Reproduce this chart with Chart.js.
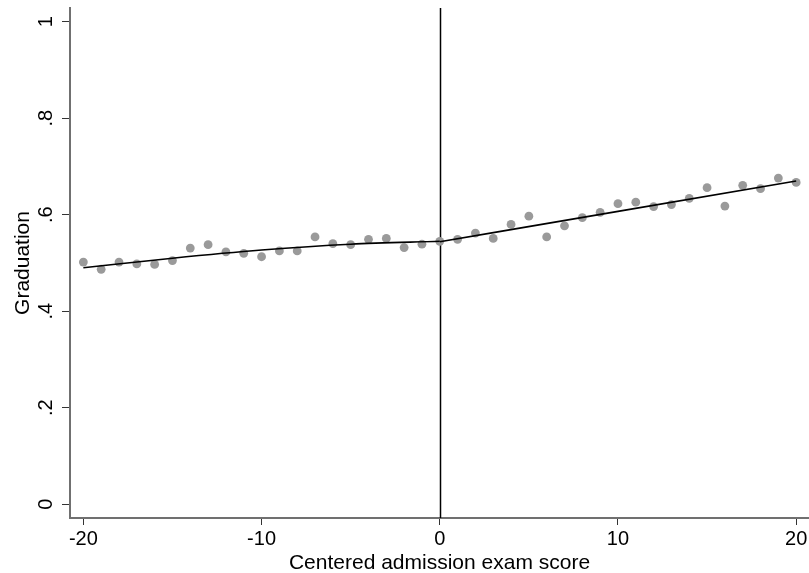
<!DOCTYPE html>
<html>
<head>
<meta charset="utf-8">
<script src="https://cdn.jsdelivr.net/npm/chart.js@4/dist/chart.umd.min.js"></script>
<style>
  html, body { margin: 0; padding: 0; background: #fff; }
  #wrap { width: 809px; height: 573px; position: relative; }
</style>
</head>
<body>
<div id="wrap"><canvas id="rdplot"></canvas></div>
<script>
// binned means, one per exam score
var examScore = [-20, -19, -18, -17, -16, -15, -14, -13, -12, -11, -10, -9, -8, -7, -6, -5, -4, -3, -2, -1, 0,
                 1, 2, 3, 4, 5, 6, 7, 8, 9, 10, 11, 12, 13, 14, 15, 16, 17, 18, 19, 20];
var gradRate = [0.502, 0.487, 0.502, 0.498, 0.497, 0.505, 0.531, 0.538, 0.523, 0.520, 0.513, 0.525, 0.525, 0.554, 0.540, 0.538, 0.549, 0.551, 0.532, 0.539, 0.545,
                0.549, 0.562, 0.551, 0.580, 0.597, 0.554, 0.577, 0.594, 0.605, 0.623, 0.626, 0.617, 0.621, 0.634, 0.656, 0.618, 0.661, 0.654, 0.676, 0.667];

// fitted lines either side of the cutoff
var fitLeftX = [-20, -15, -10, -5, 0];
var fitLeftY = [0.490, 0.510, 0.527, 0.539, 0.545];
var fitRightX = [0, 10, 20];
var fitRightY = [0.544, 0.607, 0.670];

var cutoff = 0;

var xTicks = [-20, -10, 0, 10, 20];
var xTickLabels = ["-20", "-10", "0", "10", "20"];
var yTicks = [0, 0.2, 0.4, 0.6, 0.8, 1];
var yTickLabels = ["0", ".2", ".4", ".6", ".8", "1"];

function pairs(xs, ys) {
    return xs.map(function (x, i) { return { x: x, y: ys[i] }; });
}

var fontFamily = "'Liberation Sans', Arial, sans-serif";

// vertical line at the cutoff + rotated y labels (Stata style)
var extras = {
    id: 'extras',
    beforeDatasetsDraw: function (chart) {
        var c = chart.ctx, xs = chart.scales.x, a = chart.chartArea;
        var px = Math.round(xs.getPixelForValue(cutoff)) + 0.5;
        c.save();
        c.strokeStyle = '#000';
        c.lineWidth = 1.5;
        c.beginPath();
        c.moveTo(px, a.top);
        c.lineTo(px, a.bottom);
        c.stroke();
        c.restore();
    },
    afterDraw: function (chart) {
        var c = chart.ctx, ys = chart.scales.y;
        c.save();
        c.font = '20px ' + fontFamily;
        c.fillStyle = '#000';
        c.textAlign = 'center';
        c.textBaseline = 'alphabetic';
        yTicks.forEach(function (v, i) {
            var py = ys.getPixelForValue(v);
            c.save();
            c.translate(52, py);
            c.rotate(-Math.PI / 2);
            c.fillText(yTickLabels[i], 0, 0);
            c.restore();
        });
        c.restore();
    }
};

var ctx = document.getElementById('rdplot');
var chart = new Chart(ctx, {
    type: 'scatter',
    data: {
        datasets: [
            {
                label: 'Fit left',
                type: 'line',
                data: pairs(fitLeftX, fitLeftY),
                borderColor: '#000',
                borderWidth: 1.6,
                pointRadius: 0,
                fill: false,
                cubicInterpolationMode: 'monotone'
            },
            {
                label: 'Fit right',
                type: 'line',
                data: pairs(fitRightX, fitRightY),
                borderColor: '#000',
                borderWidth: 1.6,
                pointRadius: 0,
                fill: false,
                cubicInterpolationMode: 'monotone'
            },
            {
                label: 'Graduation',
                data: pairs(examScore, gradRate),
                backgroundColor: '#9a9a9a',
                borderWidth: 0,
                pointRadius: 4.4
            }
        ]
    },
    options: {
        responsive: true,
        maintainAspectRatio: false,
        animation: false,
        layout: { autoPadding: false, padding: { top: 8, left: 0, right: 0, bottom: 0 } },
        plugins: {
            legend: { display: false },
            tooltip: { enabled: false }
        },
        scales: {
            x: {
                type: 'linear',
                min: -20.75,
                max: 20.72,
                afterFit: function (s) {
                    s.height = 55;
                    s.paddingLeft = 0;
                    s.paddingRight = 0;
                },
                afterBuildTicks: function (s) {
                    s.ticks = xTicks.map(function (v) { return { value: v }; });
                },
                ticks: {
                    font: { family: fontFamily, size: 20 },
                    color: '#000',
                    padding: 2,
                    maxRotation: 0,
                    callback: function (v) { return xTickLabels[xTicks.indexOf(v)]; }
                },
                grid: { drawOnChartArea: false, drawTicks: true, tickLength: 7, tickColor: '#333', tickWidth: 1 },
                border: { display: true, color: '#707070', width: 2 },
                title: {
                    display: true,
                    text: 'Centered admission exam score',
                    font: { family: fontFamily, size: 21 },
                    color: '#000',
                    padding: { top: 0, bottom: -3 }
                }
            },
            y: {
                type: 'linear',
                min: -0.0284,
                max: 1.0284,
                afterFit: function (s) {
                    s.width = 70;
                    s.paddingTop = 0;
                    s.paddingBottom = 0;
                },
                afterBuildTicks: function (s) {
                    s.ticks = yTicks.map(function (v) { return { value: v }; });
                },
                ticks: {
                    color: 'rgba(0,0,0,0)',
                    font: { family: fontFamily, size: 1 },
                    padding: 0,
                    callback: function (v) { return yTickLabels[yTicks.indexOf(v)]; }
                },
                grid: { drawOnChartArea: false, drawTicks: true, tickLength: 8, tickColor: '#333', tickWidth: 1 },
                border: { display: true, color: '#707070', width: 2 },
                title: {
                    display: true,
                    text: 'Graduation',
                    font: { family: fontFamily, size: 21 },
                    color: '#000',
                    padding: { top: 11, bottom: 0 }
                }
            }
        }
    },
    plugins: [extras]
});
</script>
</body>
</html>
